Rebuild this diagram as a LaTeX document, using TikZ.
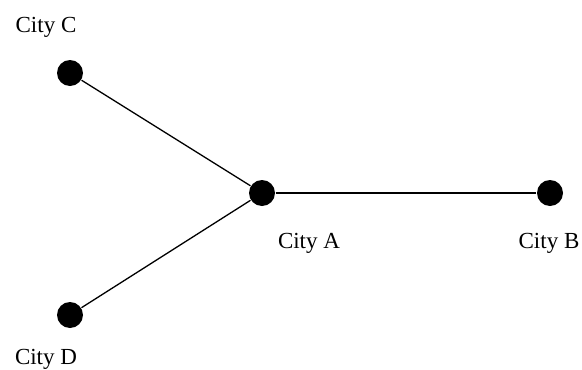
\documentclass[tikz,border=0pt]{standalone}
\usepackage{fontspec}
\setmainfont{Liberation Serif}
\usetikzlibrary{positioning}

\begin{document}
\begin{tikzpicture}[
  x=1pt, y=-1pt, line width=1.3pt,
  city/.style={circle, fill=black, inner sep=0pt, minimum size=26pt},
  cityname/.style={anchor=base, font=\fontsize{23}{27}\selectfont}
]
\useasboundingbox (0,0) rectangle (582,370);
% Cities as dots
\node[city] (A) at (262,193) {};
\node[city] (B) at (550,193) {};
\node[city] (C) at (70,73) {};
\node[city] (D) at (70,315) {};
% Roads joining the cities
\draw (C) -- (A);
\draw (D) -- (A);
\draw (A) -- (B);
% Names
\node[cityname] (nameA) at (309,248) {City A};
\node[cityname] (nameB) at (549,248) {City B};
\node[cityname] (nameC) at (46,32) {City C};
\node[cityname] (nameD) at (46,364) {City D};
\end{tikzpicture}
\end{document}
